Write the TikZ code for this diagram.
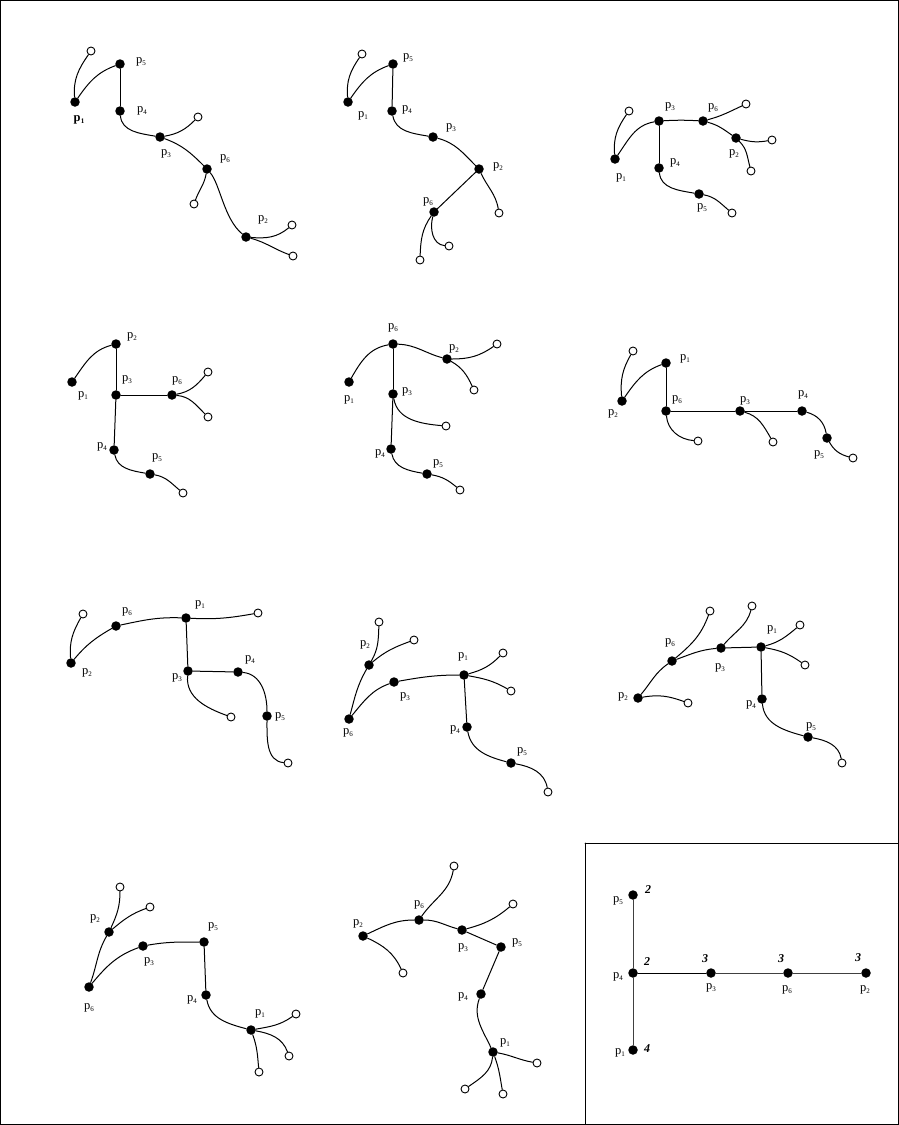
\documentclass[tikz,border=0pt]{standalone}
\usepackage{fontspec}
\setmainfont{Liberation Serif}
\newcommand{\lb}[1]{p\kern0.2pt\raisebox{-0.35ex}{\fontsize{7}{7}\selectfont #1}}
\begin{document}
\begin{tikzpicture}[x=1pt,y=1pt,
  dot/.style={circle,fill=black,inner sep=0pt,minimum size=9.5pt},
  leaf/.style={circle,draw=black,fill=white,line width=0.9pt,inner sep=0pt,minimum size=8pt},
  lab/.style={inner sep=0pt,font=\fontsize{12.5}{12.5}\selectfont},
  num/.style={inner sep=0pt,font=\fontsize{12}{12}\selectfont\bfseries\itshape},
  edge/.style={line width=1pt,black},
  every path/.style={line cap=round}]
\useasboundingbox (0,0) rectangle (899,-1125);
\draw[line width=1pt] (0.5,-0.5) rectangle (898.5,-1124.5);
\draw[line width=1pt] (585,-843) -- (585,-1124.5);
\draw[line width=1pt] (585,-843) -- (898.5,-843);

% ---------- Panel 1 ----------
\node[dot] (A1) at (75,-102) {};
\node[dot] (A5) at (120,-64) {};
\node[dot] (A4) at (120,-111) {};
\node[dot] (A3) at (160,-137) {};
\node[dot] (A6) at (207,-169) {};
\node[dot] (A2) at (246,-237) {};
\node[leaf] (Aa) at (91,-51) {};
\node[leaf] (Ab) at (198,-117) {};
\node[leaf] (Ac) at (194,-204) {};
\node[leaf] (Ad) at (292,-225) {};
\node[leaf] (Ae) at (293,-256) {};
\node[lab,font=\fontsize{12.5}{12.5}\selectfont\bfseries] (lA1) at (79,-120) {\lb{1}};
\node[lab] (lA5) at (141,-62) {\lb{5}};
\node[lab] (lA4) at (142,-111) {\lb{4}};
\node[lab] (lA3) at (166,-154) {\lb{3}};
\node[lab] (lA6) at (225,-159) {\lb{6}};
\node[lab] (lA2) at (263,-220) {\lb{2}};
\draw[edge] (A1) to[out=95,in=235] (Aa);
\draw[edge] (A1) to[out=55,in=200] (A5);
\draw[edge] (A5) -- (A4);
\draw[edge] (A4) to[out=-85,in=170] (A3);
\draw[edge] (A3) to[out=10,in=225] (Ab);
\draw[edge] (A3) to[out=-20,in=135] (A6);
\draw[edge] (A6) to[out=-100,in=70] (Ac);
\draw[edge] (A6) .. controls +(13,-15) and +(-22,18) .. (A2);
\draw[edge] (A2) to[out=-5,in=220] (Ad);
\draw[edge] (A2) to[out=-15,in=160] (Ae);

% ---------- Panel 2 ----------
\node[dot] (B5) at (393,-64) {};
\node[dot] (B1) at (348,-102) {};
\node[dot] (B4) at (392,-111) {};
\node[dot] (B3) at (433,-137) {};
\node[dot] (B2) at (479,-169) {};
\node[dot] (B6) at (434,-212) {};
\node[leaf] (Ba) at (362,-54) {};
\node[leaf] (Bb) at (499,-213) {};
\node[leaf] (Bc) at (449,-246) {};
\node[leaf] (Bd) at (420,-260) {};
\node[lab] (lB5) at (408,-58) {\lb{5}};
\node[lab] (lB1) at (363,-116) {\lb{1}};
\node[lab] (lB4) at (407,-110) {\lb{4}};
\node[lab] (lB3) at (451,-128) {\lb{3}};
\node[lab] (lB2) at (498,-167) {\lb{2}};
\node[lab] (lB6) at (428,-202) {\lb{6}};
\draw[edge] (B1) to[out=95,in=235] (Ba);
\draw[edge] (B1) to[out=55,in=200] (B5);
\draw[edge] (B5) -- (B4);
\draw[edge] (B4) to[out=-80,in=170] (B3);
\draw[edge] (B3) to[out=-15,in=135] (B2);
\draw[edge] (B2) to[out=-65,in=100] (Bb);
\draw[edge] (B2) -- (B6);
\draw[edge] (B6) to[out=-105,in=175] (Bc);
\draw[edge] (B6) to[out=-125,in=88] (Bd);

% ---------- Panel 3 ----------
\node[dot] (C1) at (615,-159) {};
\node[dot] (C3) at (659,-121) {};
\node[dot] (C6) at (703,-121) {};
\node[dot] (C2) at (736,-138) {};
\node[dot] (C4) at (659,-168) {};
\node[dot] (C5) at (699,-194) {};
\node[leaf] (Ca) at (629,-111) {};
\node[leaf] (Cb) at (746,-104) {};
\node[leaf] (Cc) at (772,-140) {};
\node[leaf] (Cd) at (751,-171) {};
\node[leaf] (Ce) at (732,-213) {};
\node[lab] (lC1) at (621,-178) {\lb{1}};
\node[lab] (lC3) at (670,-107) {\lb{3}};
\node[lab] (lC6) at (713,-108) {\lb{6}};
\node[lab] (lC2) at (734,-154) {\lb{2}};
\node[lab] (lC4) at (675,-163) {\lb{4}};
\node[lab] (lC5) at (702,-208) {\lb{5}};
\draw[edge] (C1) to[out=95,in=235] (Ca);
\draw[edge] (C1) to[out=55,in=190] (C3);
\draw[edge] (C3) to[out=3,in=177] (C6);
\draw[edge] (C6) to[out=15,in=205] (Cb);
\draw[edge] (C6) to[out=-15,in=145] (C2);
\draw[edge] (C2) to[out=-15,in=190] (Cc);
\draw[edge] (C2) to[out=-45,in=105] (Cd);
\draw[edge] (C3) -- (C4);
\draw[edge] (C4) to[out=-85,in=170] (C5);
\draw[edge] (C5) to[out=-10,in=140] (Ce);

% ---------- Panel 4 ----------
\node[dot] (D2) at (116,-344) {};
\node[dot] (D1) at (72,-382) {};
\node[dot] (D3) at (116,-395) {};
\node[dot] (D6) at (172,-395) {};
\node[dot] (D4) at (114,-450) {};
\node[dot] (D5) at (150,-474) {};
\node[leaf] (Da) at (208,-372) {};
\node[leaf] (Db) at (208,-417) {};
\node[leaf] (Dc) at (183,-493) {};
\node[lab] (lD2) at (132,-337) {\lb{2}};
\node[lab] (lD1) at (83,-396) {\lb{1}};
\node[lab] (lD3) at (127,-380) {\lb{3}};
\node[lab] (lD6) at (177,-381) {\lb{6}};
\node[lab] (lD4) at (102,-447) {\lb{4}};
\node[lab] (lD5) at (157,-458) {\lb{5}};
\draw[edge] (D1) to[out=55,in=195] (D2);
\draw[edge] (D2) -- (D3);
\draw[edge] (D3) -- (D6);
\draw[edge] (D6) to[out=10,in=230] (Da);
\draw[edge] (D6) to[out=-5,in=135] (Db);
\draw[edge] (D3) -- (D4);
\draw[edge] (D4) to[out=-80,in=170] (D5);
\draw[edge] (D5) to[out=-10,in=140] (Dc);

% ---------- Panel 5 ----------
\node[dot] (E6) at (393,-344) {};
\node[dot] (E1) at (349,-382) {};
\node[dot] (E2) at (447,-359) {};
\node[dot] (E3) at (393,-394) {};
\node[dot] (E4) at (391,-449) {};
\node[dot] (E5) at (427,-474) {};
\node[leaf] (Ea) at (497,-344) {};
\node[leaf] (Eb) at (474,-390) {};
\node[leaf] (Ec) at (446,-426) {};
\node[leaf] (Ed) at (460,-490) {};
\node[lab] (lE6) at (393,-328) {\lb{6}};
\node[lab] (lE1) at (349,-400) {\lb{1}};
\node[lab] (lE2) at (454,-349) {\lb{2}};
\node[lab] (lE3) at (407,-392) {\lb{3}};
\node[lab] (lE4) at (380,-454) {\lb{4}};
\node[lab] (lE5) at (438,-464) {\lb{5}};
\draw[edge] (E1) to[out=60,in=190] (E6);
\draw[edge] (E6) to[out=-2,in=165] (E2);
\draw[edge] (E2) to[out=0,in=215] (Ea);
\draw[edge] (E2) to[out=-30,in=115] (Eb);
\draw[edge] (E6) -- (E3);
\draw[edge] (E3) to[out=-80,in=175] (Ec);
\draw[edge] (E3) -- (E4);
\draw[edge] (E4) to[out=-80,in=170] (E5);
\draw[edge] (E5) to[out=-10,in=140] (Ed);

% ---------- Panel 6 ----------
\node[dot] (F1) at (666,-363) {};
\node[dot] (F2) at (622,-401) {};
\node[dot] (F6) at (666,-411) {};
\node[dot] (F3) at (740,-411) {};
\node[dot] (F4) at (802,-411) {};
\node[dot] (F5) at (827,-438) {};
\node[leaf] (Fa) at (633,-351) {};
\node[leaf] (Fb) at (698,-441) {};
\node[leaf] (Fc) at (773,-442) {};
\node[leaf] (Fd) at (853,-458) {};
\node[lab] (lF1) at (685,-359) {\lb{1}};
\node[lab] (lF2) at (613,-414) {\lb{2}};
\node[lab] (lF6) at (677,-400) {\lb{6}};
\node[lab] (lF3) at (745,-401) {\lb{3}};
\node[lab] (lF4) at (803,-395) {\lb{4}};
\node[lab] (lF5) at (819,-455) {\lb{5}};
\draw[edge] (F2) to[out=95,in=240] (Fa);
\draw[edge] (F2) to[out=55,in=200] (F1);
\draw[edge] (F1) -- (F6);
\draw[edge] (F6) to[out=-85,in=175] (Fb);
\draw[edge] (F6) -- (F3);
\draw[edge] (F3) -- (F4);
\draw[edge] (F3) to[out=-15,in=120] (Fc);
\draw[edge] (F4) to[out=-15,in=100] (F5);
\draw[edge] (F5) to[out=-60,in=165] (Fd);

% ---------- Panel 7 ----------
\node[dot] (G2) at (71,-663) {};
\node[dot] (G6) at (116,-626) {};
\node[dot] (G1) at (186,-618) {};
\node[dot] (G3) at (188,-671) {};
\node[dot] (G4) at (238,-672) {};
\node[dot] (G5) at (267,-716) {};
\node[leaf] (Ga) at (83,-614) {};
\node[leaf] (Gb) at (258,-613) {};
\node[leaf] (Gc) at (231,-717) {};
\node[leaf] (Gd) at (288,-763) {};
\node[lab] (lG2) at (87,-673) {\lb{2}};
\node[lab] (lG6) at (127,-612) {\lb{6}};
\node[lab] (lG1) at (200,-605) {\lb{1}};
\node[lab] (lG3) at (177,-678) {\lb{3}};
\node[lab] (lG4) at (250,-660) {\lb{4}};
\node[lab] (lG5) at (280,-717) {\lb{5}};
\draw[edge] (G2) to[out=95,in=240] (Ga);
\draw[edge] (G2) to[out=50,in=210] (G6);
\draw[edge] (G6) to[out=12,in=178] (G1);
\draw[edge] (G1) to[out=-3,in=190] (Gb);
\draw[edge] (G1) -- (G3);
\draw[edge] (G3) -- (G4);
\draw[edge] (G3) to[out=-95,in=160] (Gc);
\draw[edge] (G4) to[out=-5,in=90] (G5);
\draw[edge] (G5) to[out=-90,in=175] (Gd);

% ---------- Panel 8 ----------
\node[dot] (H2) at (369,-665) {};
\node[dot] (H6) at (349,-719) {};
\node[dot] (H3) at (394,-682) {};
\node[dot] (H1) at (464,-675) {};
\node[dot] (H4) at (467,-727) {};
\node[dot] (H5) at (511,-763) {};
\node[leaf] (Ha) at (379,-622) {};
\node[leaf] (Hb) at (414,-640) {};
\node[leaf] (Hc) at (503,-653) {};
\node[leaf] (Hd) at (511,-691) {};
\node[leaf] (He) at (548,-792) {};
\node[lab] (lH2) at (365,-645) {\lb{2}};
\node[lab] (lH6) at (348,-733) {\lb{6}};
\node[lab] (lH3) at (405,-697) {\lb{3}};
\node[lab] (lH1) at (463,-657) {\lb{1}};
\node[lab] (lH4) at (455,-730) {\lb{4}};
\node[lab] (lH5) at (522,-752) {\lb{5}};
\draw[edge] (H6) to[out=75,in=240] (H2);
\draw[edge] (H2) to[out=60,in=268] (Ha);
\draw[edge] (H2) to[out=40,in=200] (Hb);
\draw[edge] (H6) to[out=50,in=200] (H3);
\draw[edge] (H3) to[out=10,in=180] (H1);
\draw[edge] (H1) to[out=15,in=225] (Hc);
\draw[edge] (H1) to[out=-10,in=150] (Hd);
\draw[edge] (H1) -- (H4);
\draw[edge] (H4) to[out=-80,in=165] (H5);
\draw[edge] (H5) to[out=-10,in=100] (He);

% ---------- Panel 9 ----------
\node[dot] (I6) at (672,-661) {};
\node[dot] (I3) at (721,-648) {};
\node[dot] (I1) at (761,-647) {};
\node[dot] (I2) at (638,-698) {};
\node[dot] (I4) at (762,-699) {};
\node[dot] (I5) at (808,-737) {};
\node[leaf] (Ia) at (710,-611) {};
\node[leaf] (Ib) at (752,-606) {};
\node[leaf] (Ic) at (800,-625) {};
\node[leaf] (Id) at (805,-665) {};
\node[leaf] (Ie) at (688,-703) {};
\node[leaf] (If) at (842,-763) {};
\node[lab] (lI6) at (670,-643) {\lb{6}};
\node[lab] (lI3) at (720,-668) {\lb{3}};
\node[lab] (lI1) at (772,-630) {\lb{1}};
\node[lab] (lI2) at (623,-697) {\lb{2}};
\node[lab] (lI4) at (751,-705) {\lb{4}};
\node[lab] (lI5) at (811,-727) {\lb{5}};
\draw[edge] (I2) to[out=50,in=215] (I6);
\draw[edge] (I6) to[out=40,in=250] (Ia);
\draw[edge] (I6) to[out=20,in=185] (I3);
\draw[edge] (I3) to[out=50,in=255] (Ib);
\draw[edge] (I3) -- (I1);
\draw[edge] (I1) to[out=15,in=220] (Ic);
\draw[edge] (I1) to[out=-10,in=145] (Id);
\draw[edge] (I1) -- (I4);
\draw[edge] (I2) to[out=10,in=160] (Ie);
\draw[edge] (I4) to[out=-85,in=165] (I5);
\draw[edge] (I5) to[out=-10,in=100] (If);

% ---------- Panel 10 ----------
\node[dot] (J2) at (109,-932) {};
\node[dot] (J6) at (89,-987) {};
\node[dot] (J3) at (143,-946) {};
\node[dot] (J5) at (204,-942) {};
\node[dot] (J4) at (206,-995) {};
\node[dot] (J1) at (251,-1030) {};
\node[leaf] (Ja) at (120,-887) {};
\node[leaf] (Jb) at (150,-907) {};
\node[leaf] (Jc) at (296,-1014) {};
\node[leaf] (Jd) at (289,-1056) {};
\node[leaf] (Je) at (259,-1072) {};
\node[lab] (lJ2) at (95,-919) {\lb{2}};
\node[lab] (lJ6) at (89,-1008) {\lb{6}};
\node[lab] (lJ3) at (149,-962) {\lb{3}};
\node[lab] (lJ5) at (213,-927) {\lb{5}};
\node[lab] (lJ4) at (192,-1000) {\lb{4}};
\node[lab] (lJ1) at (260,-1014) {\lb{1}};
\draw[edge] (J6) to[out=70,in=240] (J2);
\draw[edge] (J2) to[out=65,in=270] (Ja);
\draw[edge] (J2) to[out=40,in=200] (Jb);
\draw[edge] (J6) to[out=50,in=200] (J3);
\draw[edge] (J3) to[out=10,in=180] (J5);
\draw[edge] (J5) -- (J4);
\draw[edge] (J4) to[out=-80,in=165] (J1);
\draw[edge] (J1) to[out=10,in=215] (Jc);
\draw[edge] (J1) to[out=-10,in=110] (Jd);
\draw[edge] (J1) to[out=-70,in=95] (Je);

% ---------- Panel 11 ----------
\node[dot] (K6) at (419,-920) {};
\node[dot] (K2) at (363,-936) {};
\node[dot] (K3) at (462,-930) {};
\node[dot] (K5) at (501,-947) {};
\node[dot] (K4) at (481,-994) {};
\node[dot] (K1) at (493,-1052) {};
\node[leaf] (Ka) at (454,-866) {};
\node[leaf] (Kb) at (403,-973) {};
\node[leaf] (Kc) at (513,-904) {};
\node[leaf] (Kd) at (537,-1063) {};
\node[leaf] (Ke) at (503,-1094) {};
\node[leaf] (Kf) at (465,-1089) {};
\node[lab] (lK6) at (419,-905) {\lb{6}};
\node[lab] (lK2) at (358,-924) {\lb{2}};
\node[lab] (lK3) at (463,-948) {\lb{3}};
\node[lab] (lK5) at (517,-943) {\lb{5}};
\node[lab] (lK4) at (463,-997) {\lb{4}};
\node[lab] (lK1) at (505,-1043) {\lb{1}};
\draw[edge] (K2) to[out=25,in=180] (K6);
\draw[edge] (K6) to[out=55,in=260] (Ka);
\draw[edge] (K6) to[out=0,in=165] (K3);
\draw[edge] (K3) to[out=15,in=220] (Kc);
\draw[edge] (K3) -- (K5);
\draw[edge] (K5) -- (K4);
\draw[edge] (K2) to[out=-25,in=115] (Kb);
\draw[edge] (K4) to[out=-110,in=115] (K1);
\draw[edge] (K1) to[out=-10,in=170] (Kd);
\draw[edge] (K1) to[out=-70,in=100] (Ke);
\draw[edge] (K1) to[out=-95,in=35] (Kf);

% ---------- Panel 12 ----------
\node[dot] (L5) at (633,-895) {};
\node[dot] (L4) at (633,-973) {};
\node[dot] (L1) at (633,-1050) {};
\node[dot] (L3) at (711,-973) {};
\node[dot] (L6) at (788,-973) {};
\node[dot] (L2) at (866,-973) {};
\draw[edge,black!75] (L5) -- (L4);
\draw[edge,black!75] (L4) -- (L1);
\draw[edge] (L4) -- (L3);
\draw[edge,black!75] (L3) -- (L6);
\draw[edge,black!75] (L6) -- (L2);
\node[lab] (lL5) at (618,-901) {\lb{5}};
\node[lab] (lL4) at (618,-977) {\lb{4}};
\node[lab] (lL1) at (620,-1053) {\lb{1}};
\node[lab] (lL3) at (711,-988) {\lb{3}};
\node[lab] (lL6) at (787,-990) {\lb{6}};
\node[lab] (lL2) at (865,-990) {\lb{2}};
\node[num] (nL5) at (648,-890) {2};
\node[num] (nL4) at (647,-962) {2};
\node[num] (nL3) at (705,-959) {3};
\node[num] (nL6) at (781,-959) {3};
\node[num] (nL2) at (858,-958) {3};
\node[num] (nL1) at (647,-1049) {4};
\end{tikzpicture}
\end{document}
